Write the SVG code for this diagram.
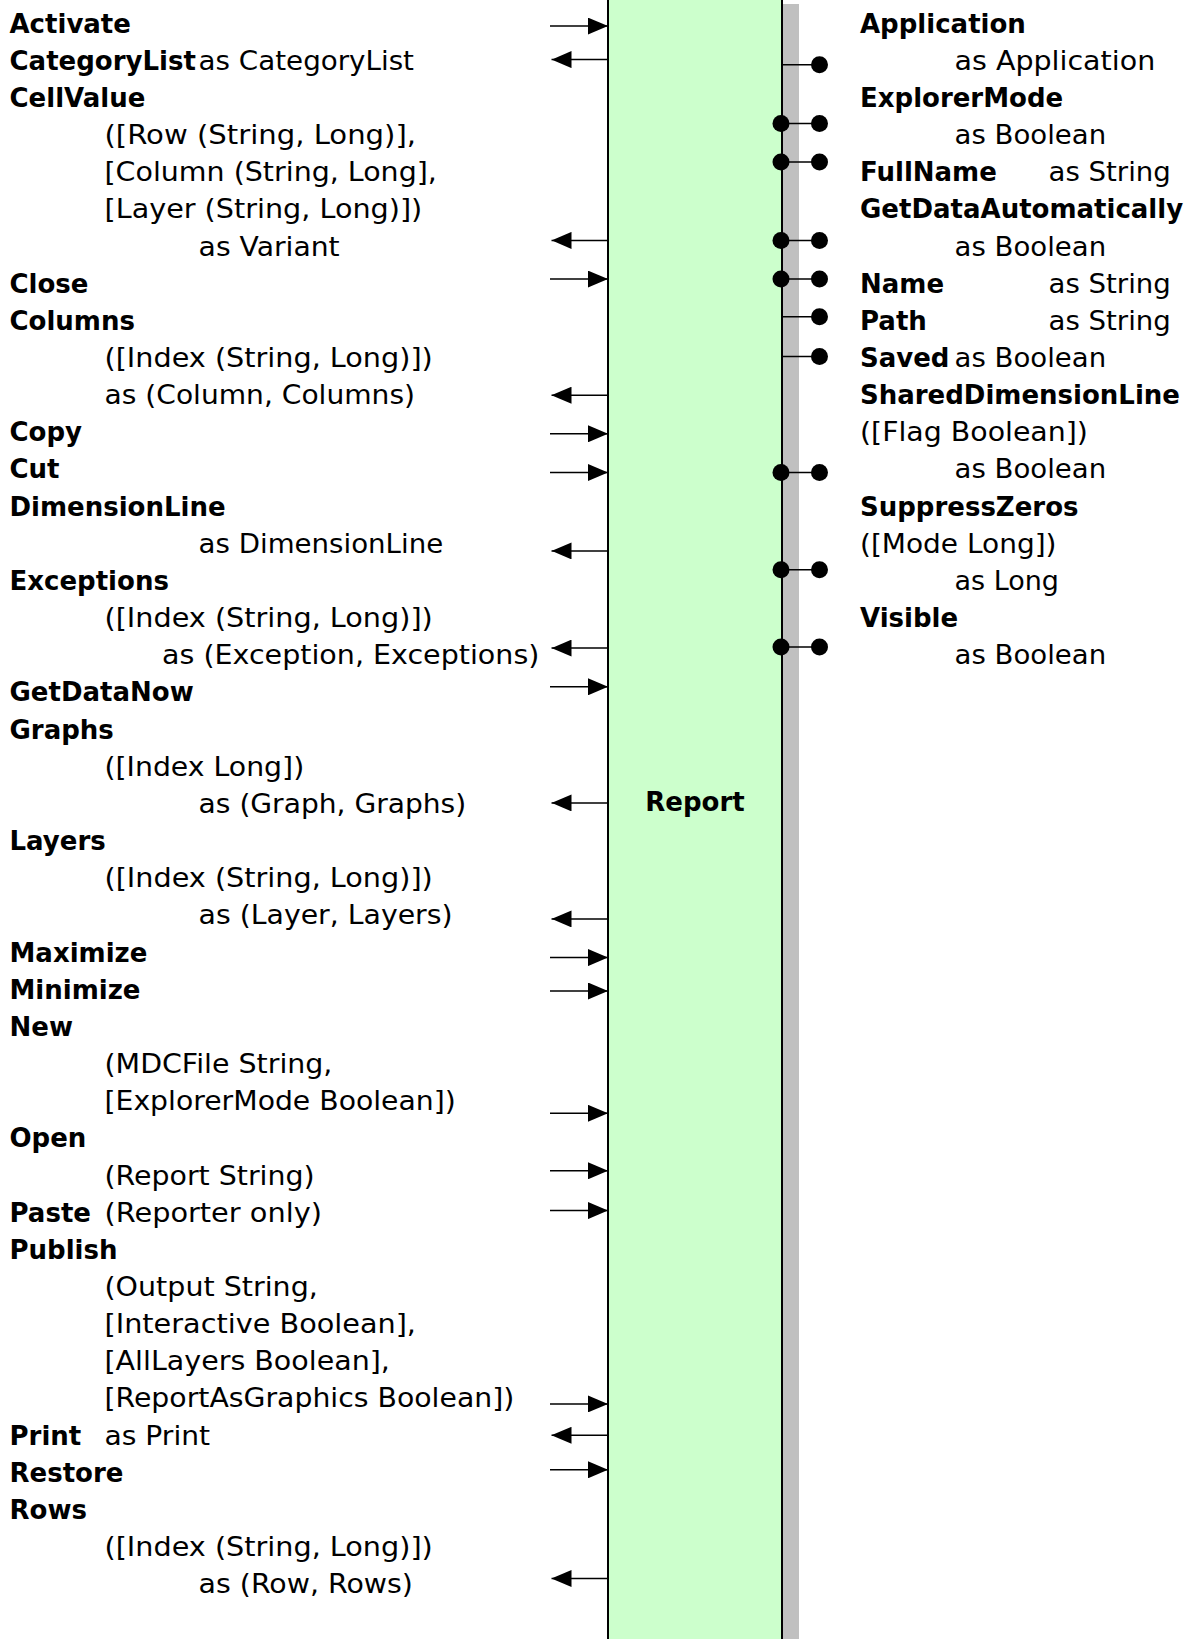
<svg xmlns="http://www.w3.org/2000/svg" width="1197" height="1639" viewBox="0 0 1197 1639">
  <style>
    text { font-family: "DejaVu Sans", Verdana, sans-serif; font-size: 26px; fill: #000; }
    .b { font-weight: bold; }
    .conn { stroke: #000; stroke-width: 1.5; fill: none; }
    .dot { fill: #000; }
  </style>
  <defs>
    <marker id="head" markerUnits="userSpaceOnUse" markerWidth="20" markerHeight="17" refX="20" refY="8.5" orient="auto">
      <path d="M0,0 L20,8.5 L0,17 Z" fill="#000"/>
    </marker>
  </defs>

  <rect width="1197" height="1639" fill="#fff"/>

  <!-- class box -->
  <g id="report">
    <rect x="782" y="4" width="17" height="1640" fill="#c0c0c0"/>
    <rect x="608" y="-10" width="174" height="1660" fill="#ccffcc" stroke="#000" stroke-width="2"/>
    <text class="b" x="695" y="811" text-anchor="middle">Report</text>
  </g>

  <!-- methods -->
  <g id="m-activate"><text class="b" x="9.5" y="32.5">Activate</text></g>
  <g id="m-categorylist">
    <text class="b" x="9.5" y="69.7">CategoryList</text>
    <text x="198.6" y="69.7" textLength="215.4" lengthAdjust="spacingAndGlyphs">as CategoryList</text>
  </g>
  <g id="m-cellvalue">
    <text class="b" x="9.5" y="106.8">CellValue</text>
    <text x="104.5" y="144" textLength="311.5" lengthAdjust="spacingAndGlyphs">([Row (String, Long)],</text>
    <text x="104.5" y="181.1" textLength="332.4" lengthAdjust="spacingAndGlyphs">[Column (String, Long],</text>
    <text x="104.5" y="218.3" textLength="317.8" lengthAdjust="spacingAndGlyphs">[Layer (String, Long)])</text>
    <text x="198.6" y="255.5" textLength="141.1" lengthAdjust="spacingAndGlyphs">as Variant</text>
  </g>
  <g id="m-close"><text class="b" x="9.5" y="292.6">Close</text></g>
  <g id="m-columns">
    <text class="b" x="9.5" y="329.8">Columns</text>
    <text x="104.5" y="366.9" textLength="328.3" lengthAdjust="spacingAndGlyphs">([Index (String, Long)])</text>
    <text x="104.5" y="404.1" textLength="310.5" lengthAdjust="spacingAndGlyphs">as (Column, Columns)</text>
  </g>
  <g id="m-copy"><text class="b" x="9.5" y="441.3">Copy</text></g>
  <g id="m-cut"><text class="b" x="9.5" y="478.4">Cut</text></g>
  <g id="m-dimensionline">
    <text class="b" x="9.5" y="515.6">DimensionLine</text>
    <text x="198.6" y="552.7" textLength="244.6" lengthAdjust="spacingAndGlyphs">as DimensionLine</text>
  </g>
  <g id="m-exceptions">
    <text class="b" x="9.5" y="589.9">Exceptions</text>
    <text x="104.5" y="627.1" textLength="328.3" lengthAdjust="spacingAndGlyphs">([Index (String, Long)])</text>
    <text x="162" y="664.2" textLength="377.4" lengthAdjust="spacingAndGlyphs">as (Exception, Exceptions)</text>
  </g>
  <g id="m-getdatanow"><text class="b" x="9.5" y="701.4">GetDataNow</text></g>
  <g id="m-graphs">
    <text class="b" x="9.5" y="738.5">Graphs</text>
    <text x="104.5" y="775.7" textLength="199.7" lengthAdjust="spacingAndGlyphs">([Index Long])</text>
    <text x="198.6" y="812.9" textLength="267.6" lengthAdjust="spacingAndGlyphs">as (Graph, Graphs)</text>
  </g>
  <g id="m-layers">
    <text class="b" x="9.5" y="850">Layers</text>
    <text x="104.5" y="887.2" textLength="328.3" lengthAdjust="spacingAndGlyphs">([Index (String, Long)])</text>
    <text x="198.6" y="924.3" textLength="254" lengthAdjust="spacingAndGlyphs">as (Layer, Layers)</text>
  </g>
  <g id="m-maximize"><text class="b" x="9.5" y="961.5">Maximize</text></g>
  <g id="m-minimize"><text class="b" x="9.5" y="998.7">Minimize</text></g>
  <g id="m-new">
    <text class="b" x="9.5" y="1035.8">New</text>
    <text x="104.5" y="1073" textLength="227.9" lengthAdjust="spacingAndGlyphs">(MDCFile String,</text>
    <text x="104.5" y="1110.1" textLength="351.3" lengthAdjust="spacingAndGlyphs">[ExplorerMode Boolean])</text>
  </g>
  <g id="m-open">
    <text class="b" x="9.5" y="1147.3">Open</text>
    <text x="104.5" y="1184.5" textLength="210.1" lengthAdjust="spacingAndGlyphs">(Report String)</text>
  </g>
  <g id="m-paste">
    <text class="b" x="9.5" y="1221.6">Paste</text>
    <text x="104.5" y="1221.6" textLength="217.4" lengthAdjust="spacingAndGlyphs">(Reporter only)</text>
  </g>
  <g id="m-publish">
    <text class="b" x="9.5" y="1258.8">Publish</text>
    <text x="104.5" y="1295.9" textLength="213.3" lengthAdjust="spacingAndGlyphs">(Output String,</text>
    <text x="104.5" y="1333.1" textLength="311.5" lengthAdjust="spacingAndGlyphs">[Interactive Boolean],</text>
    <text x="104.5" y="1370.3" textLength="285.4" lengthAdjust="spacingAndGlyphs">[AllLayers Boolean],</text>
    <text x="104.5" y="1407.4" textLength="409.8" lengthAdjust="spacingAndGlyphs">[ReportAsGraphics Boolean])</text>
  </g>
  <g id="m-print">
    <text class="b" x="9.5" y="1444.6">Print</text>
    <text x="104.5" y="1444.6" textLength="105.6" lengthAdjust="spacingAndGlyphs">as Print</text>
  </g>
  <g id="m-restore"><text class="b" x="9.5" y="1481.7">Restore</text></g>
  <g id="m-rows">
    <text class="b" x="9.5" y="1518.9">Rows</text>
    <text x="104.5" y="1556.1" textLength="328.3" lengthAdjust="spacingAndGlyphs">([Index (String, Long)])</text>
    <text x="198.6" y="1593.2" textLength="214.3" lengthAdjust="spacingAndGlyphs">as (Row, Rows)</text>
  </g>

  <!-- properties -->
  <g id="p-application">
    <text class="b" x="860" y="32.5">Application</text>
    <text x="954.5" y="69.7" textLength="200.7" lengthAdjust="spacingAndGlyphs">as Application</text>
  </g>
  <g id="p-explorermode">
    <text class="b" x="860" y="106.8">ExplorerMode</text>
    <text x="954.5" y="144" textLength="151.6" lengthAdjust="spacingAndGlyphs">as Boolean</text>
  </g>
  <g id="p-fullname">
    <text class="b" x="860" y="181.1">FullName</text>
    <text x="1048.5" y="181.1" textLength="122.3" lengthAdjust="spacingAndGlyphs">as String</text>
  </g>
  <g id="p-getdataautomatically">
    <text class="b" x="860" y="218.3">GetDataAutomatically</text>
    <text x="954.5" y="255.5" textLength="151.6" lengthAdjust="spacingAndGlyphs">as Boolean</text>
  </g>
  <g id="p-name">
    <text class="b" x="860" y="292.6">Name</text>
    <text x="1048.5" y="292.6" textLength="122.3" lengthAdjust="spacingAndGlyphs">as String</text>
  </g>
  <g id="p-path">
    <text class="b" x="860" y="329.8">Path</text>
    <text x="1048.5" y="329.8" textLength="122.3" lengthAdjust="spacingAndGlyphs">as String</text>
  </g>
  <g id="p-saved">
    <text class="b" x="860" y="366.9">Saved</text>
    <text x="954.5" y="366.9" textLength="151.6" lengthAdjust="spacingAndGlyphs">as Boolean</text>
  </g>
  <g id="p-shareddimensionline">
    <text class="b" x="860" y="404.1">SharedDimensionLine</text>
    <text x="860" y="441.3" textLength="227.9" lengthAdjust="spacingAndGlyphs">([Flag Boolean])</text>
    <text x="954.5" y="478.4" textLength="151.6" lengthAdjust="spacingAndGlyphs">as Boolean</text>
  </g>
  <g id="p-suppresszeros">
    <text class="b" x="860" y="515.6">SuppressZeros</text>
    <text x="860" y="552.7" textLength="196.5" lengthAdjust="spacingAndGlyphs">([Mode Long])</text>
    <text x="954.5" y="589.9" textLength="104.5" lengthAdjust="spacingAndGlyphs">as Long</text>
  </g>
  <g id="p-visible">
    <text class="b" x="860" y="627.1">Visible</text>
    <text x="954.5" y="664.2" textLength="151.6" lengthAdjust="spacingAndGlyphs">as Boolean</text>
  </g>

  <!-- connectors: method arrows on the left, property pins on the right -->
  <g id="connectors">
    <g class="conn" marker-end="url(#head)">
      <line x1="550" y1="26.1" x2="608" y2="26.1"/>
      <line x1="608" y1="59.6" x2="551.5" y2="59.6"/>
      <line x1="608" y1="240.4" x2="551.5" y2="240.4"/>
      <line x1="550" y1="279.1" x2="608" y2="279.1"/>
      <line x1="608" y1="395.2" x2="551.5" y2="395.2"/>
      <line x1="550" y1="433.8" x2="608" y2="433.8"/>
      <line x1="550" y1="472.5" x2="608" y2="472.5"/>
      <line x1="608" y1="550.9" x2="551.5" y2="550.9"/>
      <line x1="608" y1="648.1" x2="551.5" y2="648.1"/>
      <line x1="550" y1="686.8" x2="608" y2="686.8"/>
      <line x1="608" y1="802.9" x2="551.5" y2="802.9"/>
      <line x1="608" y1="918.9" x2="551.5" y2="918.9"/>
      <line x1="550" y1="957.6" x2="608" y2="957.6"/>
      <line x1="550" y1="991" x2="608" y2="991"/>
      <line x1="550" y1="1113.3" x2="608" y2="1113.3"/>
      <line x1="550" y1="1170.8" x2="608" y2="1170.8"/>
      <line x1="550" y1="1210.6" x2="608" y2="1210.6"/>
      <line x1="550" y1="1403.9" x2="608" y2="1403.9"/>
      <line x1="608" y1="1435.3" x2="551.5" y2="1435.3"/>
      <line x1="550" y1="1469.8" x2="608" y2="1469.8"/>
      <line x1="608" y1="1578.5" x2="551.5" y2="1578.5"/>
    </g>
    <g class="conn">
      <line x1="782" y1="64.8" x2="819.5" y2="64.8"/>
      <line x1="782" y1="123.4" x2="819.5" y2="123.4"/>
      <line x1="782" y1="162" x2="819.5" y2="162"/>
      <line x1="782" y1="240.4" x2="819.5" y2="240.4"/>
      <line x1="782" y1="279.1" x2="819.5" y2="279.1"/>
      <line x1="782" y1="316.8" x2="819.5" y2="316.8"/>
      <line x1="782" y1="356.5" x2="819.5" y2="356.5"/>
      <line x1="782" y1="472.5" x2="819.5" y2="472.5"/>
      <line x1="782" y1="569.7" x2="819.5" y2="569.7"/>
      <line x1="782" y1="647.1" x2="819.5" y2="647.1"/>
    </g>
    <g class="dot">
      <circle cx="819.5" cy="64.8" r="8.5"/>
      <circle cx="781" cy="123.4" r="8.5"/><circle cx="819.5" cy="123.4" r="8.5"/>
      <circle cx="781" cy="162" r="8.5"/><circle cx="819.5" cy="162" r="8.5"/>
      <circle cx="781" cy="240.4" r="8.5"/><circle cx="819.5" cy="240.4" r="8.5"/>
      <circle cx="781" cy="279.1" r="8.5"/><circle cx="819.5" cy="279.1" r="8.5"/>
      <circle cx="819.5" cy="316.8" r="8.5"/>
      <circle cx="819.5" cy="356.5" r="8.5"/>
      <circle cx="781" cy="472.5" r="8.5"/><circle cx="819.5" cy="472.5" r="8.5"/>
      <circle cx="781" cy="569.7" r="8.5"/><circle cx="819.5" cy="569.7" r="8.5"/>
      <circle cx="781" cy="647.1" r="8.5"/><circle cx="819.5" cy="647.1" r="8.5"/>
    </g>
  </g>
</svg>
